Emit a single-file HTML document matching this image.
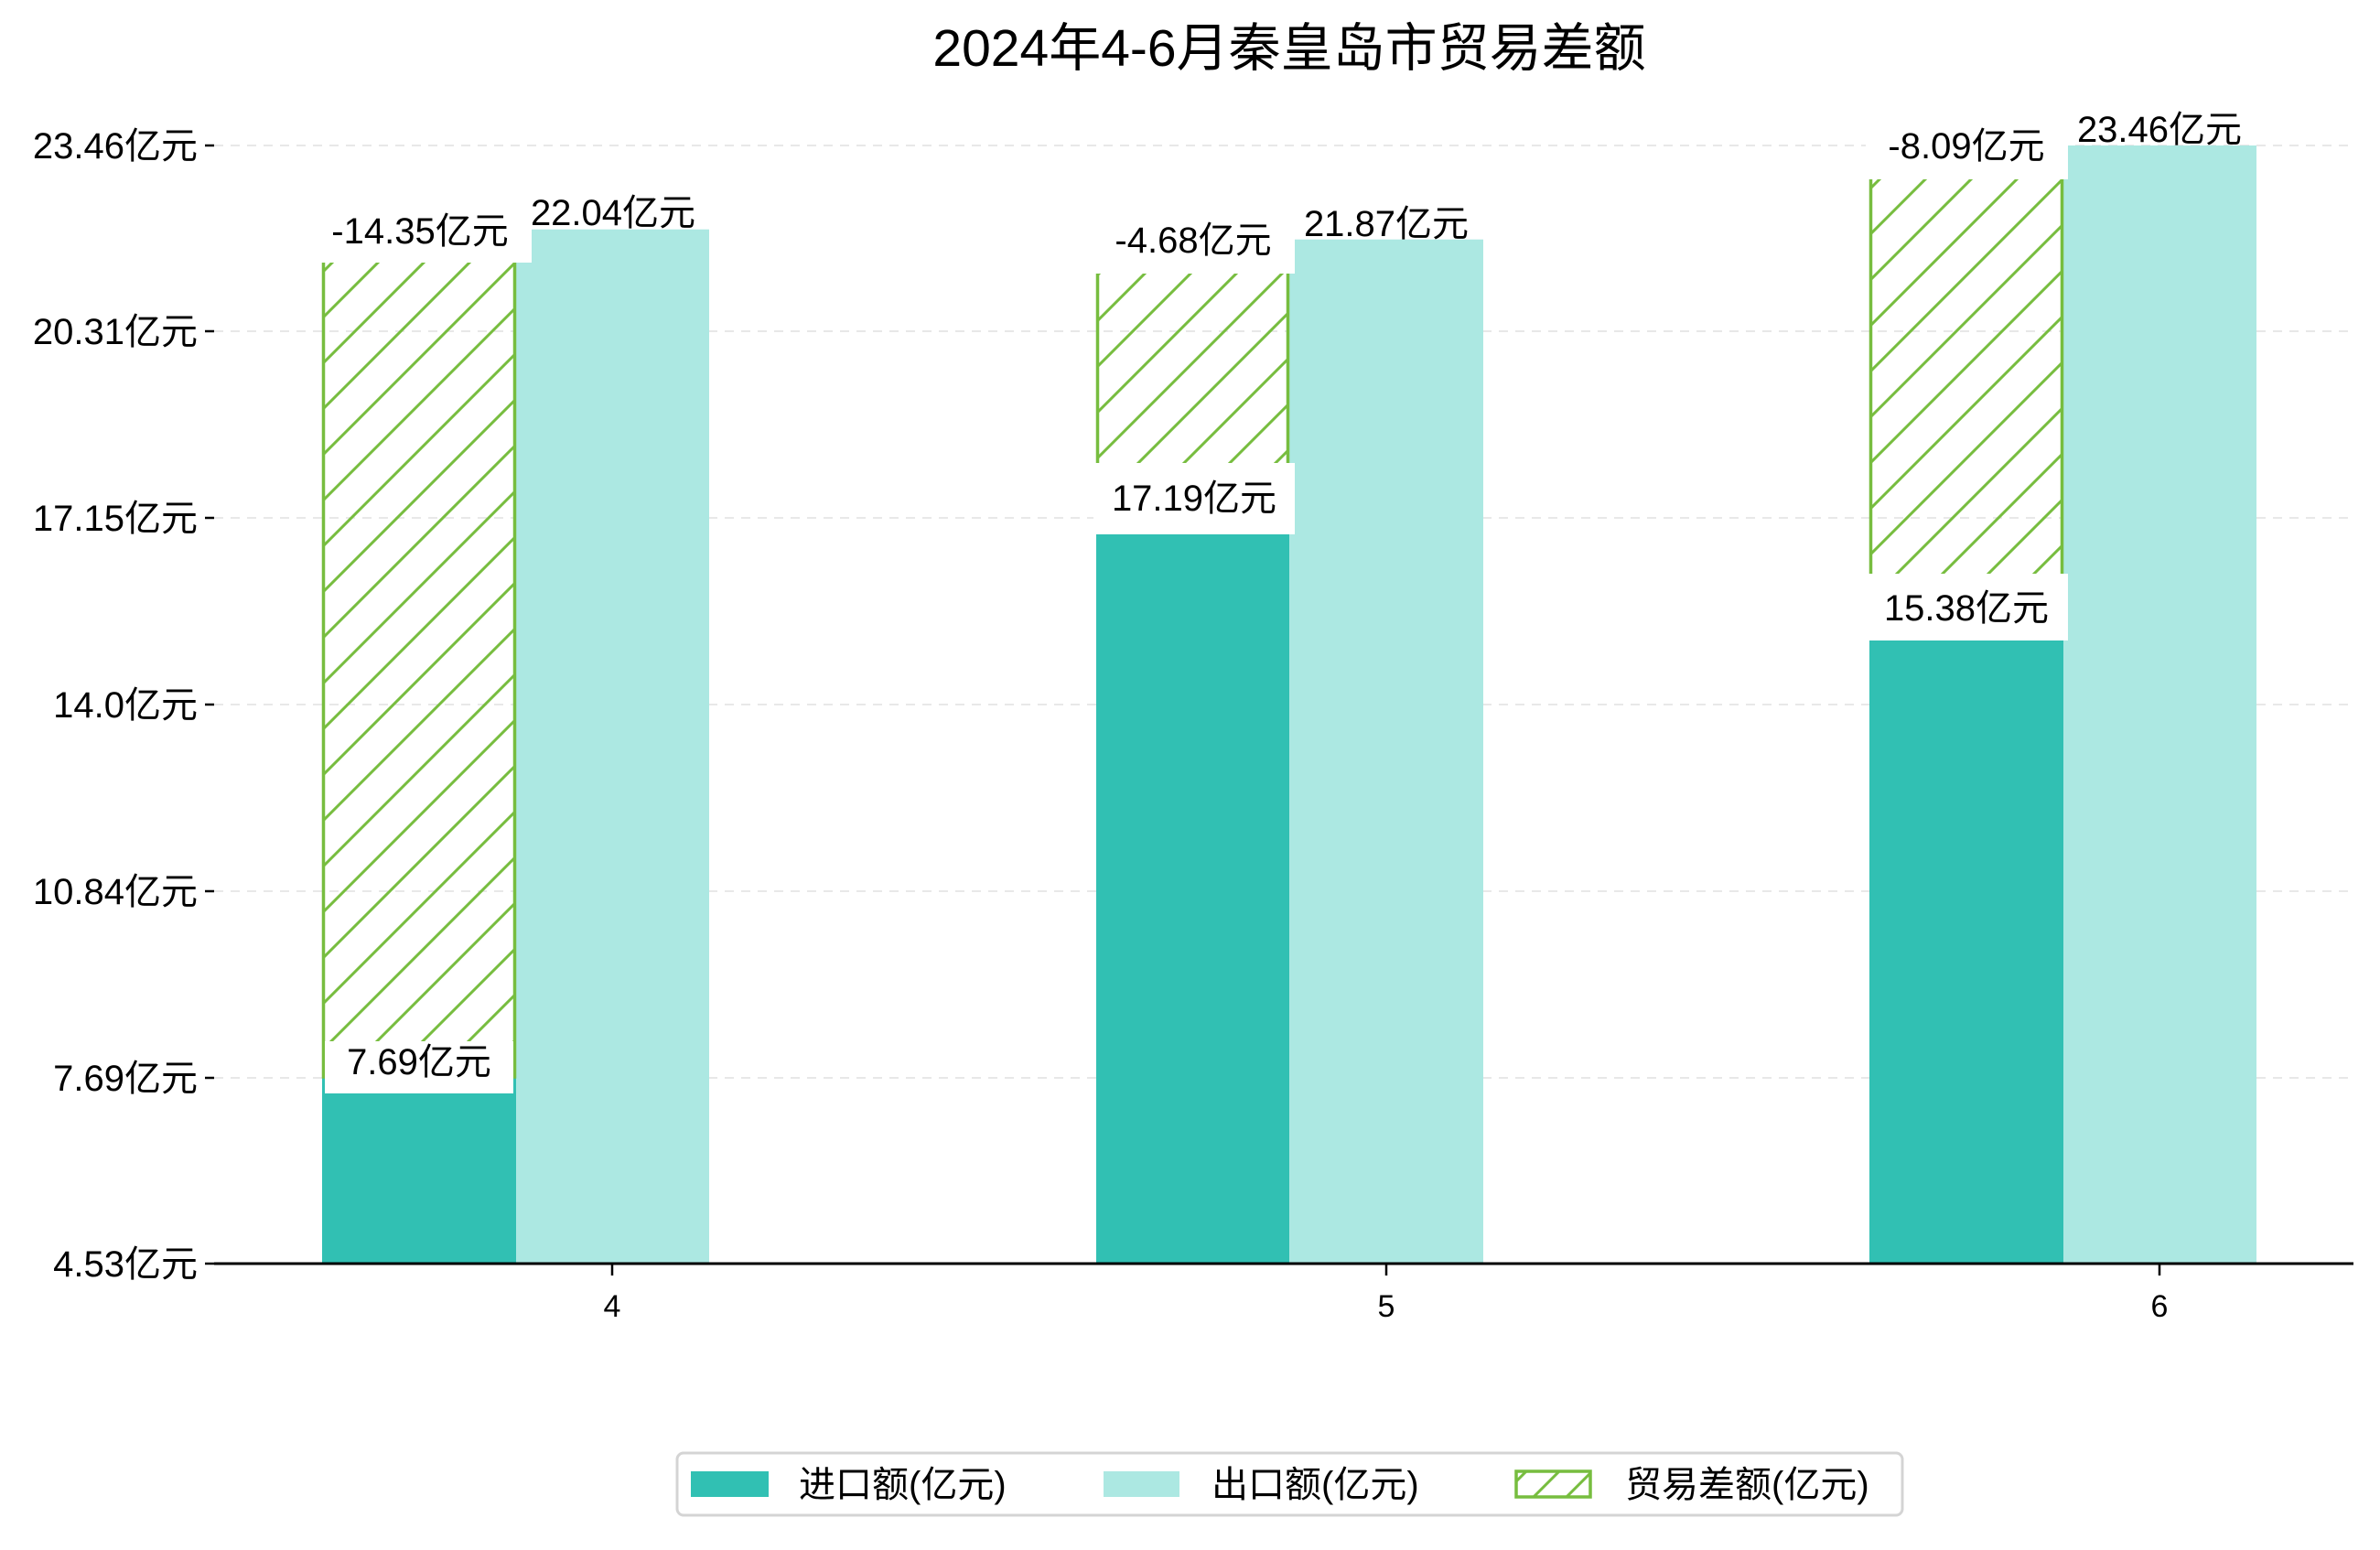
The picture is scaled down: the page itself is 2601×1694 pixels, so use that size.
<!DOCTYPE html>
<html><head><meta charset="utf-8"><style>
html,body{margin:0;padding:0;background:#fff;}
svg text{font-family:"Liberation Sans","Noto Sans CJK SC",sans-serif;fill:#000;}
</style></head><body>
<svg width="2601" height="1689" viewBox="0 0 2601 1689" xmlns="http://www.w3.org/2000/svg">
<defs>
<pattern id="h" patternUnits="userSpaceOnUse" width="50" height="50" x="0" y="0">
<line x1="-10" y1="60" x2="60" y2="-10" stroke="#77bd3f" stroke-width="3"/>
<line x1="-10" y1="10" x2="10" y2="-10" stroke="#77bd3f" stroke-width="3"/>
<line x1="40" y1="60" x2="60" y2="40" stroke="#77bd3f" stroke-width="3"/>
</pattern>
<pattern id="hl" patternUnits="userSpaceOnUse" width="36" height="36" x="0" y="0">
<line x1="-10" y1="46" x2="46" y2="-10" stroke="#77bd3f" stroke-width="3"/>
<line x1="-10" y1="10" x2="10" y2="-10" stroke="#77bd3f" stroke-width="3"/>
<line x1="26" y1="46" x2="46" y2="26" stroke="#77bd3f" stroke-width="3"/>
</pattern>
</defs>
<text x="1409" y="72" font-size="57" text-anchor="middle">2024年4-6月秦皇岛市贸易差额</text>
<g stroke="#e8e8e8" stroke-width="2" stroke-dasharray="10,8">
<line x1="234" y1="159" x2="2572" y2="159"/>
<line x1="234" y1="362" x2="2572" y2="362"/>
<line x1="234" y1="566" x2="2572" y2="566"/>
<line x1="234" y1="770" x2="2572" y2="770"/>
<line x1="234" y1="974" x2="2572" y2="974"/>
<line x1="234" y1="1178" x2="2572" y2="1178"/>
</g>
<g stroke="#000" stroke-width="2.5">
<line x1="224" y1="159" x2="234" y2="159"/>
<line x1="224" y1="362" x2="234" y2="362"/>
<line x1="224" y1="566" x2="234" y2="566"/>
<line x1="224" y1="770" x2="234" y2="770"/>
<line x1="224" y1="974" x2="234" y2="974"/>
<line x1="224" y1="1178" x2="234" y2="1178"/>
<line x1="224" y1="1381" x2="234" y2="1381"/>
</g>
<g font-size="40" text-anchor="end">
<text x="216" y="173">23.46亿元</text>
<text x="216" y="376">20.31亿元</text>
<text x="216" y="580">17.15亿元</text>
<text x="216" y="784">14.0亿元</text>
<text x="216" y="988">10.84亿元</text>
<text x="216" y="1192">7.69亿元</text>
<text x="216" y="1395">4.53亿元</text>
</g>
<rect x="352" y="1177" width="212" height="204" fill="#31c0b3"/>
<rect x="564" y="250.7" width="211" height="1130.3" fill="#ace8e2"/>
<rect x="1198" y="563.8" width="211" height="817.2" fill="#31c0b3"/>
<rect x="1409" y="261.7" width="212" height="1119.3" fill="#ace8e2"/>
<rect x="2043" y="680.6" width="212" height="700.4" fill="#31c0b3"/>
<rect x="2255" y="159" width="211" height="1222" fill="#ace8e2"/>
<rect x="353.5" y="250.7" width="209" height="926.3" fill="url(#h)" stroke="#77bd3f" stroke-width="3.5"/>
<rect x="1199.5" y="261.7" width="208" height="302.1" fill="url(#h)" stroke="#77bd3f" stroke-width="3.5"/>
<rect x="2044.5" y="159" width="209" height="521.6" fill="url(#h)" stroke="#77bd3f" stroke-width="3.5"/>
<g fill="#fff">
<rect x="350" y="225" width="231" height="62"/>
<rect x="355" y="1138" width="206" height="57"/>
<rect x="1195" y="232" width="220" height="67"/>
<rect x="1195" y="506" width="220" height="78"/>
<rect x="2039" y="128" width="221" height="68"/>
<rect x="2039" y="627" width="221" height="73"/>
</g>
<g font-size="40" text-anchor="middle">
<text x="459" y="266">-14.35亿元</text>
<text x="670" y="246">22.04亿元</text>
<text x="458" y="1174">7.69亿元</text>
<text x="1304" y="276">-4.68亿元</text>
<text x="1515" y="258">21.87亿元</text>
<text x="1305" y="558">17.19亿元</text>
<text x="2149" y="173">-8.09亿元</text>
<text x="2360" y="155">23.46亿元</text>
<text x="2149" y="678">15.38亿元</text>
</g>
<line x1="234" y1="1381" x2="2572" y2="1381" stroke="#000" stroke-width="3"/>
<g stroke="#000" stroke-width="2.5">
<line x1="669" y1="1381" x2="669" y2="1394"/>
<line x1="1515" y1="1381" x2="1515" y2="1394"/>
<line x1="2360" y1="1381" x2="2360" y2="1394"/>
</g>
<g font-size="34" text-anchor="middle">
<text x="669" y="1439">4</text>
<text x="1515" y="1439">5</text>
<text x="2360" y="1439">6</text>
</g>
<rect x="740" y="1588" width="1339" height="68" rx="7" fill="#fff" stroke="#d4d4d4" stroke-width="3"/>
<rect x="755" y="1608" width="85" height="28" fill="#31c0b3"/>
<rect x="1206" y="1608" width="83" height="28" fill="#ace8e2"/>
<rect x="1657" y="1608" width="81" height="28" fill="url(#hl)" stroke="#77bd3f" stroke-width="3.5"/>
<g font-size="40">
<text x="873" y="1636">进口额(亿元)</text>
<text x="1324" y="1636">出口额(亿元)</text>
<text x="1776" y="1636">贸易差额(亿元)</text>
</g>
</svg>
</body></html>
